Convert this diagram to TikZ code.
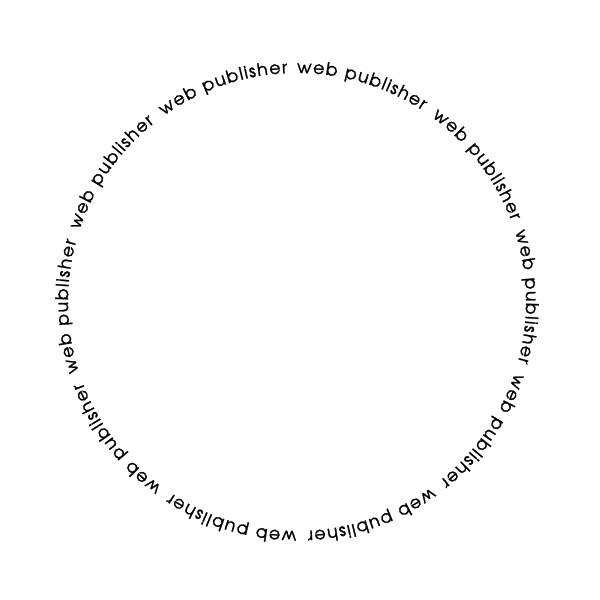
\documentclass[tikz,border=0pt]{standalone}
\usepackage{fontspec}
\newfontfamily\ringfont{texgyreadventor-regular.otf}[FakeBold=1.4]
\usetikzlibrary{decorations.text}
\def\ringword{web publisher{\kern2pt} }

\begin{document}
\begin{tikzpicture}
			%%%%% START %%%%%
			
			\useasboundingbox[fill=white] (0, 0) rectangle (15, 15);
			\coordinate (ring) at (7.425, 7.45);
			
			\path[decorate, decoration={text along path, text align={fit to path},
				text={|\ringfont\fontsize{12.3pt}{14pt}\selectfont|\ringword\ringword\ringword\ringword\ringword\ringword\ringword\ringword\ringword\ringword}}]
				(ring) ++(90:5.725) arc (90:-270:5.725);
			
			%%%%% END %%%%%
		\end{tikzpicture}
\end{document}
